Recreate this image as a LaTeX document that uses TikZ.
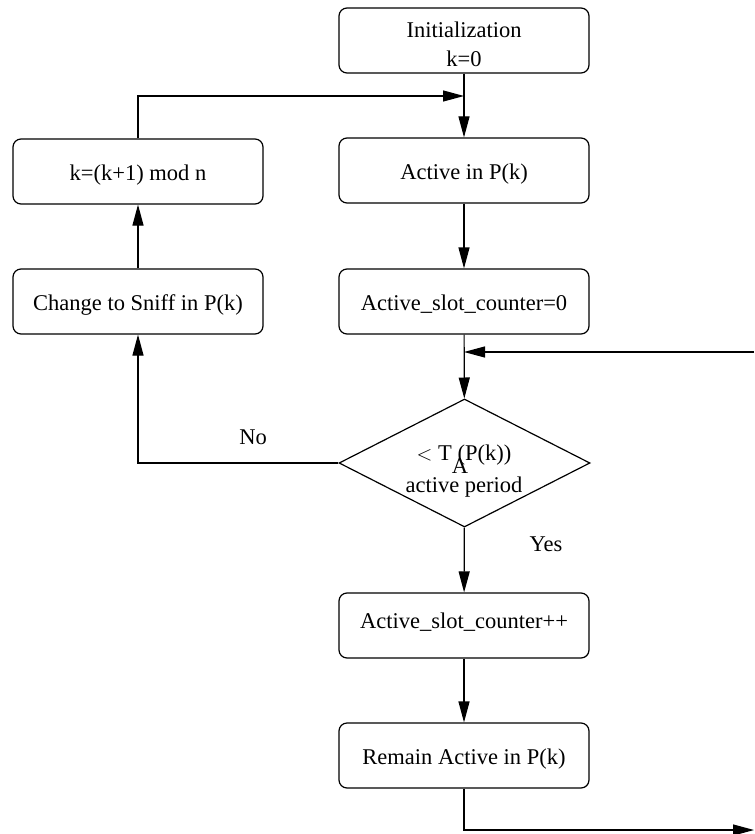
\documentclass[tikz,border=0pt]{standalone}
\usepackage{fontspec}
\setmainfont{Liberation Serif}
\usetikzlibrary{arrows.meta,shapes.geometric}
\begin{document}
\begin{tikzpicture}[x=1pt,y=-1pt,
  font=\fontsize{22.5}{27}\selectfont,
  stepbox/.style={draw,rounded corners=8pt,line width=1.2pt,minimum width=250pt,minimum height=65pt,align=center,inner sep=0pt,text height=17.5pt,text depth=0pt},
  decision/.style={draw,diamond,line width=1.2pt,minimum width=251pt,minimum height=128pt,aspect=2,inner sep=0pt},
  flow/.style={line width=1.2pt,-{Triangle[length=21pt,width=11pt]}},
  lbl/.style={inner sep=0pt,align=center}]
\useasboundingbox (0,0) rectangle (754,834);
% right column
\node[stepbox,label={[lbl,yshift=-3.5pt]center:Initialization\\[2pt]k=0}] (init) at (464,40.5) {};
\node[stepbox] (act) at (464,170.5) {Active in P(k)};
\node[stepbox] (asc0) at (464,301.5) {Active\_slot\_counter=0};
\node[decision] (dec) at (464.5,463) {};
\node[lbl] (dtxt) at (464,471.5) {$<$ T\rlap{\raisebox{-1.2ex}{A}}\ (P(k))\\[3pt]active period};
\node[stepbox] (ascpp) at (464,625.5) {\raisebox{6pt}{Active\_slot\_counter++}};
\node[stepbox] (rem) at (464,755.5) {Remain Active in P(k)};
% left column
\node[stepbox] (kinc) at (138,171.5) {k=(k+1) mod n};
\node[stepbox] (sniff) at (138,301.5) {Change to Sniff in P(k)};
% branch labels
\node[lbl] (no) at (253,437) {No};
\node[lbl] (yes) at (546,544) {Yes};
\coordinate (loopin) at (464,96);
\coordinate (backin) at (464,352);
\coordinate (backsrc) at (754,352);
\coordinate (outend) at (754,830);

\draw[flow] (init) -- (act);
\draw[flow] (act) -- (asc0);
\draw[flow] (asc0) -- (dec);
\draw[flow] (backsrc) -- (backin);
\draw[flow] (dec.west) -| (sniff);
\draw[flow] (sniff) -- (kinc);
\draw[flow] (kinc.north) |- (loopin);
\draw[flow] (dec) -- (ascpp);
\draw[flow] (ascpp) -- (rem);
\draw[flow] (rem.south) |- (outend);
\end{tikzpicture}
\end{document}
